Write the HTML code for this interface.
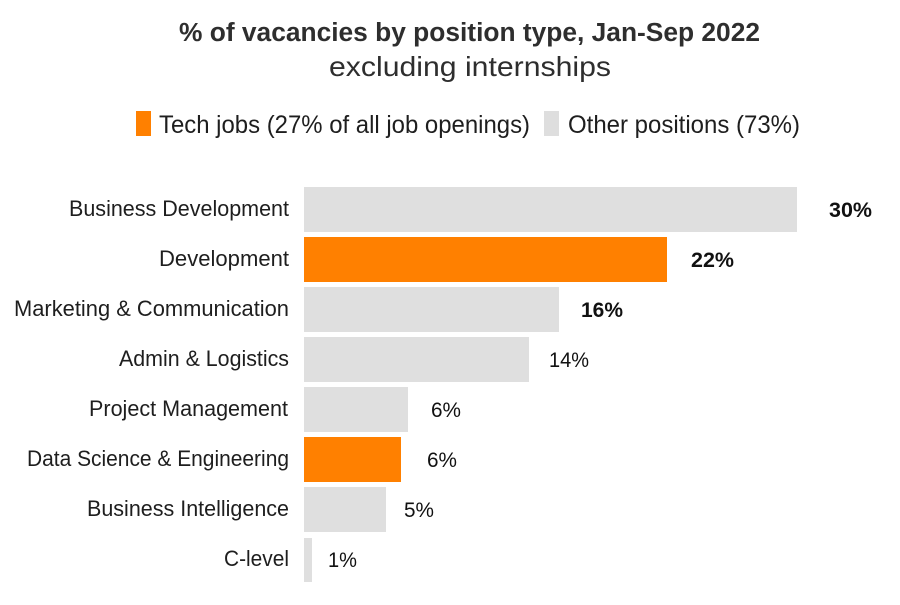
<!DOCTYPE html>
<html>
<head>
<meta charset="utf-8">
<style>
html,body{margin:0;padding:0;background:#fff;}
svg{display:block;}
text{font-family:"Liberation Sans",sans-serif;}
</style>
</head>
<body>
<svg width="900" height="605" viewBox="0 0 900 605" xmlns="http://www.w3.org/2000/svg">
  <rect width="900" height="605" fill="#fff"/>
  <!-- Title -->
  <text x="179" y="41" font-size="25.5" font-weight="bold" fill="#2e2e2e" textLength="581" lengthAdjust="spacingAndGlyphs">% of vacancies by position type, Jan-Sep 2022</text>
  <text x="329" y="76" font-size="27.5" fill="#2e2e2e" textLength="282" lengthAdjust="spacingAndGlyphs">excluding internships</text>
  <!-- Legend -->
  <rect x="136" y="111" width="15" height="25" fill="#ff8000"/>
  <text x="159" y="133" font-size="25" fill="#1e1e1e" textLength="371" lengthAdjust="spacingAndGlyphs">Tech jobs (27% of all job openings)</text>
  <rect x="544" y="111" width="15" height="25" fill="#dedede"/>
  <text x="568" y="133" font-size="25" fill="#1e1e1e" textLength="232" lengthAdjust="spacingAndGlyphs">Other positions (73%)</text>

  <!-- Bars -->
  <rect x="304" y="187" width="493" height="45" fill="#dfdfdf"/>
  <rect x="304" y="237" width="363" height="45" fill="#ff8000"/>
  <rect x="304" y="287" width="255" height="45" fill="#dfdfdf"/>
  <rect x="304" y="337" width="225" height="45" fill="#dfdfdf"/>
  <rect x="304" y="387" width="104" height="45" fill="#dfdfdf"/>
  <rect x="304" y="437" width="97" height="45" fill="#ff8000"/>
  <rect x="304" y="487" width="82" height="45" fill="#dfdfdf"/>
  <rect x="304" y="538" width="8" height="44" fill="#dfdfdf"/>

  <!-- Category labels -->
  <g font-size="22.5" fill="#1e1e1e">
    <text x="69" y="216" textLength="220" lengthAdjust="spacingAndGlyphs">Business Development</text>
    <text x="159" y="266" textLength="130" lengthAdjust="spacingAndGlyphs">Development</text>
    <text x="14" y="316" textLength="275" lengthAdjust="spacingAndGlyphs">Marketing &amp; Communication</text>
    <text x="119" y="366" textLength="170" lengthAdjust="spacingAndGlyphs">Admin &amp; Logistics</text>
    <text x="89" y="416" textLength="199" lengthAdjust="spacingAndGlyphs">Project Management</text>
    <text x="27" y="466" textLength="262" lengthAdjust="spacingAndGlyphs">Data Science &amp; Engineering</text>
    <text x="87" y="516" textLength="202" lengthAdjust="spacingAndGlyphs">Business Intelligence</text>
    <text x="224" y="566" textLength="65" lengthAdjust="spacingAndGlyphs">C-level</text>
  </g>

  <!-- Value labels -->
  <g font-size="21.5" fill="#111">
    <text x="829" y="217" font-weight="bold" textLength="43" lengthAdjust="spacingAndGlyphs">30%</text>
    <text x="691" y="267" font-weight="bold" textLength="43" lengthAdjust="spacingAndGlyphs">22%</text>
    <text x="581" y="317" font-weight="bold" textLength="42" lengthAdjust="spacingAndGlyphs">16%</text>
    <text x="549" y="367" textLength="40" lengthAdjust="spacingAndGlyphs">14%</text>
    <text x="431" y="417" textLength="30" lengthAdjust="spacingAndGlyphs">6%</text>
    <text x="427" y="467" textLength="30" lengthAdjust="spacingAndGlyphs">6%</text>
    <text x="404" y="517" textLength="30" lengthAdjust="spacingAndGlyphs">5%</text>
    <text x="328" y="567" textLength="29" lengthAdjust="spacingAndGlyphs">1%</text>
  </g>
</svg>
</body>
</html>
